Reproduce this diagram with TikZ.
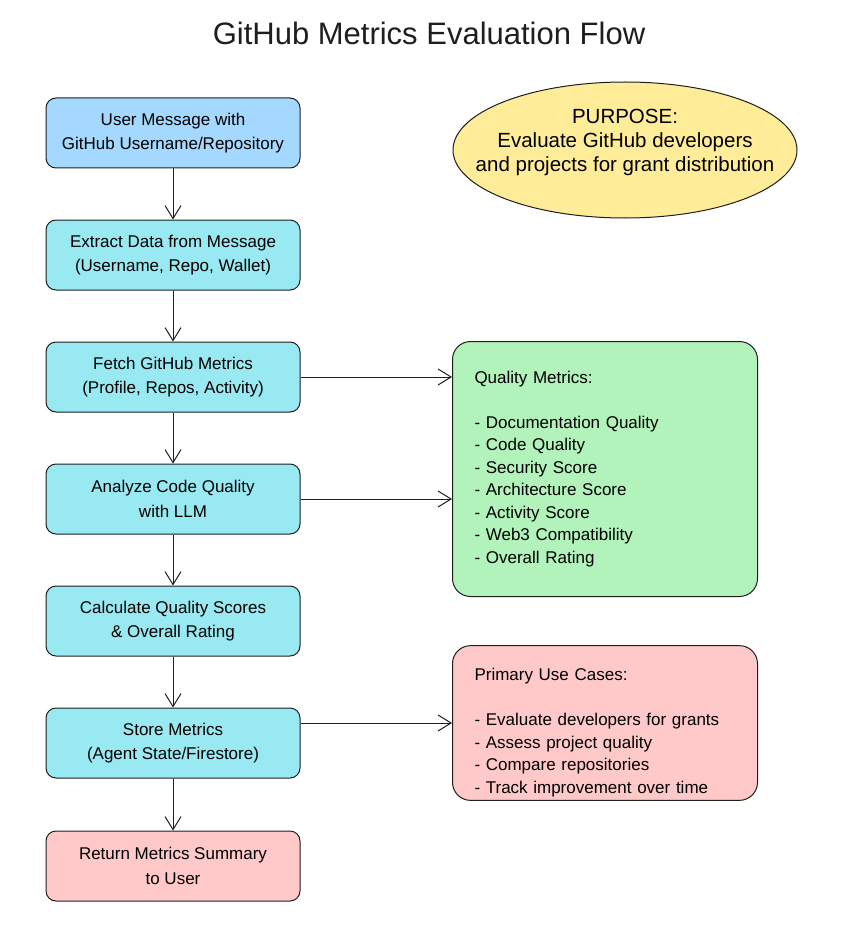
\documentclass[tikz,border=0pt]{standalone}
\usepackage{fontspec}
\setmainfont{Liberation Sans}
\usetikzlibrary{arrows.meta,shapes.geometric}
\definecolor{inblue}{HTML}{A5D8FF}
\definecolor{stepcyan}{HTML}{99E9F2}
\definecolor{noteyellow}{HTML}{FFEC99}
\definecolor{notegreen}{HTML}{B2F2BB}
\definecolor{notepink}{HTML}{FFC9C9}
\definecolor{ink}{HTML}{1E1E1E}
\begin{document}
\begin{tikzpicture}[x=1pt,y=-1pt,
  box/.style={draw=ink, line width=1pt, rounded corners=10pt, minimum width=254pt, minimum height=70pt, align=center, font=\fontsize{17}{24.5}\selectfont},
  note/.style={draw=ink, line width=1pt, rounded corners=18pt, minimum width=305pt, text width=261pt, align=left, font=\fontsize{17}{22.5}\selectfont},
  flow/.style={draw=ink, line width=1pt, -{Straight Barb[length=13pt,width=16pt]}}]
\useasboundingbox (0,0) rectangle (855,936);
\node[font=\fontsize{31}{36}\selectfont, text=ink] (title) at (429,33) {GitHub Metrics Evaluation Flow};

% main flow
\node[box, fill=inblue] (msg) at (173,133) {User Message with\\GitHub Username/Repository};
\node[box, fill=stepcyan] (extract) at (173,255) {Extract Data from Message\\(Username, Repo, Wallet)};
\node[box, fill=stepcyan] (fetch) at (173,377) {Fetch GitHub Metrics\\(Profile, Repos, Activity)};
\node[box, fill=stepcyan] (analyze) at (173,499) {Analyze Code Quality\\with LLM};
\node[box, fill=stepcyan] (calc) at (173,621) {Calculate Quality Scores\\\& Overall Rating};
\node[box, fill=stepcyan] (store) at (173,743) {Store Metrics\\(Agent State/Firestore)};
\node[box, fill=notepink] (ret) at (173,866) {Return Metrics Summary\\to User};

% side notes
\node[ellipse, draw=ink, line width=1pt, fill=noteyellow, minimum width=344pt, minimum height=136pt, inner sep=0pt] (purpose) at (625,150) {};
\node[align=center, font=\fontsize{20.5}{24}\selectfont] (purposetext) at (625,142) {PURPOSE:\\Evaluate GitHub developers\\and projects for grant distribution};
\node[note, fill=notegreen, minimum height=255pt] (quality) at (605,469) {Quality Metrics:\\[22.5pt]- Documentation Quality\\- Code Quality\\- Security Score\\- Architecture Score\\- Activity Score\\- Web3 Compatibility\\- Overall Rating};
\node[note, fill=notepink, minimum height=153pt] (usecases) at (605,723) {\rule{0pt}{32pt}Primary Use Cases:\\[22.5pt]- Evaluate developers for grants\\- Assess project quality\\- Compare repositories\\- Track improvement over time};

\draw[flow] (msg) -- (extract);
\draw[flow] (extract) -- (fetch);
\draw[flow] (fetch) -- (analyze);
\draw[flow] (analyze) -- (calc);
\draw[flow] (calc) -- (store);
\draw[flow] (store) -- (ret);
\draw[flow] (fetch.east) -- (quality.west |- fetch.east);
\draw[flow] (analyze.east) -- (quality.west |- analyze.east);
\draw[flow] (store.east |- usecases.west) -- (usecases.west);

\end{tikzpicture}
\end{document}
